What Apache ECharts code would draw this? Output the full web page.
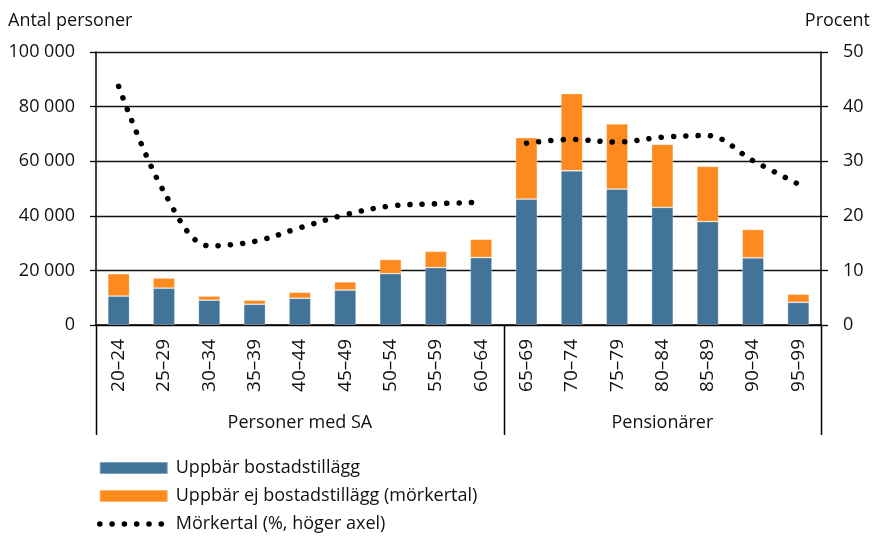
<!DOCTYPE html>
<html>
<head>
<meta charset="utf-8">
<script src="https://cdn.jsdelivr.net/npm/echarts@6/dist/echarts.min.js"></script>
<style>
html,body{margin:0;padding:0;background:#fff;}
#chart{width:874px;height:537px;}
</style>
</head>
<body>
<div id="chart"></div>
<script>
// ---- data ----
const categories = ['20–24','25–29','30–34','35–39','40–44','45–49','50–54','55–59','60–64',
                    '65–69','70–74','75–79','80–84','85–89','90–94','95–99'];
const withSupplement = [10600, 13500, 9100, 7600, 9800, 12800, 18800, 21000, 24700,
                        46100, 56500, 49800, 43100, 37900, 24600, 8300];
const withoutSupplement = [8200, 3700, 1500, 1500, 2200, 3000, 5200, 6000, 6700,
                           22500, 28300, 23900, 23100, 20200, 10400, 3000];
const darkNumberPct = [43.7, 24.4, 14.5, 15.3, 17.8, 20.2, 21.8, 22.2, 22.5,
                       33.3, 34.0, 33.5, 34.4, 34.7, 30.1, 25.8];
const groupNames = ['Personer med SA', 'Pensionärer'];
const groupStart = [0, 9];   // first category index of each group
const leftTicks = [0, 20000, 40000, 60000, 80000, 100000];
const rightTicks = [0, 10, 20, 30, 40, 50];

const seriesNames = ['Uppbär bostadstillägg', 'Uppbär ej bostadstillägg (mörkertal)', 'Mörkertal (%, höger axel)'];

const FONT = '"Open Sans", "Noto Sans", sans-serif';
const TXT = '#111';
const BLUE = '#427499';
const ORANGE = '#FD8A1E';

function groupOf(i) {
  let g = 0;
  for (let k = 0; k < groupStart.length; k++) if (i >= groupStart[k]) g = k;
  return g;
}
function lineData(g) {
  return darkNumberPct.map((v, i) => groupOf(i) === g ? v : '-');
}
function fmtThousands(v) {
  return String(v).replace(/\B(?=(\d{3})+(?!\d))/g, ' ');
}

const dotStyle = { color: '#000', width: 5.5, type: [0.1, 12.2], cap: 'round', join: 'round' };

const chart = echarts.init(document.getElementById('chart'), null, { renderer: 'canvas' });

const option = {
  animation: false,
  backgroundColor: '#fff',
  textStyle: { fontFamily: FONT, color: TXT },
  title: [
    { text: 'Antal personer', left: 4, top: 12, padding: [0, 4],
      textStyle: { fontFamily: FONT, fontSize: 18, fontWeight: 'normal', color: TXT } },
    { text: 'Procent', right: 0, top: 12, padding: [0, 4],
      textStyle: { fontFamily: FONT, fontSize: 18, fontWeight: 'normal', color: TXT } }
  ],
  grid: { left: 96, right: 53, top: 52, bottom: 212, containLabel: false, outerBoundsMode: 'none' },
  legend: {
    orient: 'vertical',
    left: 97,
    top: 459,
    itemWidth: 68,
    itemHeight: 12,
    itemGap: 10,
    padding: 0,
    selectedMode: false,
    textStyle: { fontFamily: FONT, fontSize: 18, color: TXT, lineHeight: 18, padding: [0, 0, 0, 3] },
    data: [
      { name: seriesNames[0], icon: 'rect' },
      { name: seriesNames[1], icon: 'rect' },
      { name: seriesNames[2],
        itemStyle: { opacity: 0, borderWidth: 0 },
        lineStyle: { color: '#000', width: 5.5, type: [0.1, 12.2], cap: 'round', opacity: 1 } }
    ]
  },
  xAxis: {
    type: 'category',
    data: categories,
    boundaryGap: true,
    axisLine: { show: true, lineStyle: { color: '#000', width: 1.5 } },
    axisTick: { show: false },
    splitLine: { show: false },
    axisLabel: {
      rotate: 90, margin: 14, interval: 0,
      fontFamily: FONT, fontSize: 19, color: TXT
    }
  },
  yAxis: [
    {
      type: 'value', min: 0, max: 100000, interval: 20000,
      axisLine: { show: true, lineStyle: { color: '#000', width: 1.5 } },
      axisTick: { show: true, inside: false, length: 6, lineStyle: { color: '#000', width: 1.3 } },
      splitLine: { show: true, lineStyle: { color: '#111', width: 1.3 } },
      axisLabel: { margin: 21, fontFamily: FONT, fontSize: 18, color: TXT, formatter: fmtThousands }
    },
    {
      type: 'value', min: 0, max: 50, interval: 10, position: 'right',
      axisLine: { show: true, lineStyle: { color: '#000', width: 1.5 } },
      axisTick: { show: true, inside: false, length: 7, lineStyle: { color: '#000', width: 1.3 } },
      splitLine: { show: false },
      axisLabel: { margin: 22, fontFamily: FONT, fontSize: 18, color: TXT }
    }
  ],
  series: [
    {
      name: seriesNames[0], type: 'bar', stack: 'total', yAxisIndex: 0,
      data: withSupplement, barWidth: '48%',
      itemStyle: { color: BLUE, borderColor: 'rgba(255,255,255,0.35)', borderWidth: 0.8 }
    },
    {
      name: seriesNames[1], type: 'bar', stack: 'total', yAxisIndex: 0,
      data: withoutSupplement, barWidth: '48%',
      itemStyle: { color: ORANGE, borderColor: 'rgba(255,255,255,0.35)', borderWidth: 0.8 }
    },
    {
      name: seriesNames[2], type: 'line', yAxisIndex: 1, data: lineData(0),
      smooth: 0.35, showSymbol: false, symbol: 'none', connectNulls: false,
      lineStyle: dotStyle, itemStyle: { color: '#000' }, z: 5
    },
    {
      name: seriesNames[2], type: 'line', yAxisIndex: 1, data: lineData(1),
      smooth: 0.35, showSymbol: false, symbol: 'none', connectNulls: false,
      lineStyle: dotStyle, itemStyle: { color: '#000' }, z: 5
    }
  ]
};

chart.setOption(option);

// group separators and group labels below the category axis, placed via the axis scale
function drawGroups() {
  const c0 = chart.convertToPixel({ xAxisIndex: 0 }, 0);
  const c1 = chart.convertToPixel({ xAxisIndex: 0 }, 1);
  const band = c1 - c0;
  const y0 = chart.convertToPixel({ yAxisIndex: 0 }, 0);
  const n = categories.length;
  const edges = groupStart.concat([n]);
  const els = [];
  edges.forEach(idx => {
    const x = Math.round(c0 + (idx - 0.5) * band) + 0.5;
    els.push({ type: 'line', silent: true,
      shape: { x1: x, y1: y0, x2: x, y2: y0 + 110 },
      style: { stroke: '#000', lineWidth: 1.5 } });
  });
  groupNames.forEach((name, g) => {
    const a = edges[g], b = edges[g + 1];
    const xc = c0 + ((a + b - 1) / 2) * band;
    els.push({ type: 'text', silent: true, x: xc, y: y0 + 98,
      style: { text: name, fontFamily: FONT, fontSize: 18, fill: TXT,
               align: 'center', verticalAlign: 'middle' } });
  });
  chart.setOption({ graphic: els });
}
drawGroups();
</script>
</body>
</html>
